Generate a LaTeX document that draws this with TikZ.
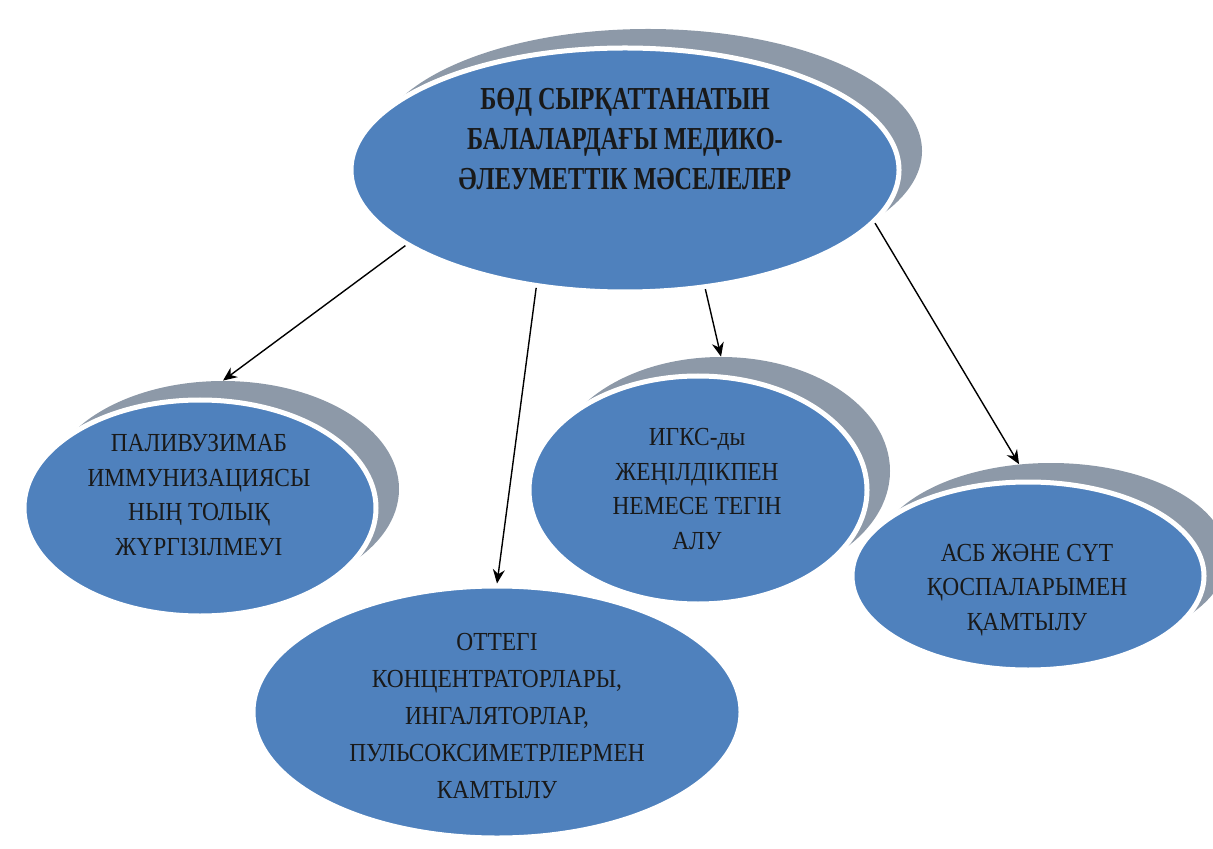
\documentclass[tikz,border=0pt]{standalone}
\usepackage{fontspec}
\setmainfont{Liberation Serif}[FakeStretch=0.9]
\newfontfamily\headfont{Liberation Serif}[FakeStretch=0.76]
\usetikzlibrary{shapes.geometric,arrows.meta,calc}
\definecolor{bubbleblue}{RGB}{79,129,189}
\definecolor{shadowgray}{RGB}{141,153,168}
\tikzset{
  bubble/.style={ellipse,fill=bubbleblue,draw=white,line width=2.5pt,inner sep=0pt},
  bubbleshadow/.style={ellipse,fill=shadowgray,inner sep=0pt},
  bubbletext/.style={align=center,text=black!90,font=\fontsize{13}{17.2}\selectfont},
  headtext/.style={align=center,text=black!90,font=\headfont\bfseries\fontsize{16}{19.8}\selectfont},
  link/.style={-{Stealth[length=7pt,width=6pt]},line width=0.7pt}
}
\newcommand{\blob}[4]{%
  \node[bubbleshadow,minimum width=#3,minimum height=#4] (#1 shadow) at ($#2+(23,-19)$) {};
  \node[bubble,minimum width=#3,minimum height=#4] (#1) at #2 {};}

\begin{document}
\begin{tikzpicture}[x=0.5pt,y=-0.5pt]
  \useasboundingbox (0,0) rectangle (1213,849);
  \blob{head}{(625,170)}{274pt}{122pt}
  \blob{pali}{(200,508)}{176pt}{108pt}
  \blob{igks}{(698,490)}{169pt}{114pt}
  \blob{asb}{(1028,576)}{176pt}{94pt}
  \node[bubble,minimum width=244pt,minimum height=126pt] (otteg) at (497,712) {};
  \node[headtext] (head text) at (625,139) {БӨД СЫРҚАТТАНАТЫН\\БАЛАЛАРДАҒЫ МЕДИКО-\\ӘЛЕУМЕТТІК МӘСЕЛЕЛЕР};
  \node[bubbletext] (pali text) at (199,495) {ПАЛИВУЗИМАБ\\ИММУНИЗАЦИЯСЫ\\НЫҢ ТОЛЫҚ\\ЖҮРГІЗІЛМЕУІ};
  \node[bubbletext] (igks text) at (697,489) {ИГКС-ды\\ЖЕҢІЛДІКПЕН\\НЕМЕСЕ ТЕГІН\\АЛУ};
  \node[bubbletext] (asb text) at (1027,590) {АСБ ЖӘНЕ СҮТ\\ҚОСПАЛАРЫМЕН\\ҚАМТЫЛУ};
  \node[bubbletext,font=\fontsize{13}{18.5}\selectfont] (otteg text) at (497,716) {ОТТЕГІ\\КОНЦЕНТРАТОРЛАРЫ,\\ИНГАЛЯТОРЛАР,\\ПУЛЬСОКСИМЕТРЛЕРМЕН\\КАМТЫЛУ};
  \draw[link] (head.199) -- (pali shadow.north);
  \draw[link] (head.233) -- (otteg.north);
  \draw[link] (head.304) -- (igks shadow.north);
  \draw[link] (head.348) -- (asb shadow.109);
\end{tikzpicture}
\end{document}
